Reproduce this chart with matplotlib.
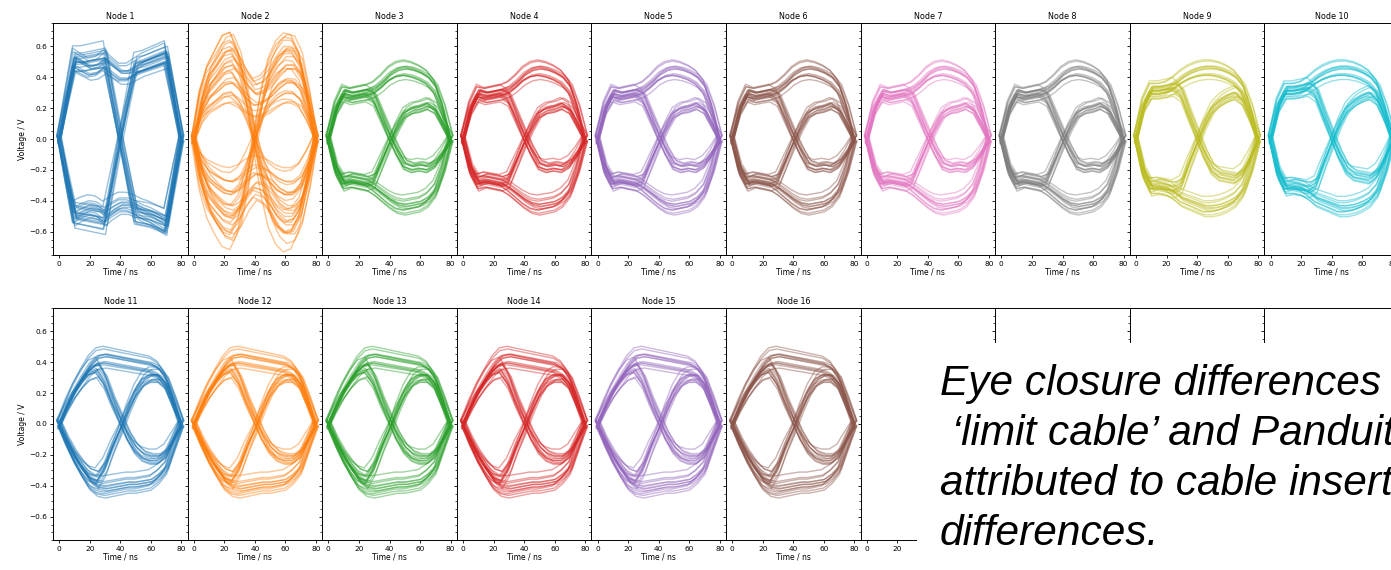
import numpy as np
import matplotlib.pyplot as plt
from matplotlib.ticker import MultipleLocator, AutoMinorLocator
from matplotlib.patches import Rectangle

# time axis of the eye (two unit intervals)
t_ns = [0, 5, 10, 15, 20, 25, 30, 35, 40, 45, 50, 55, 60, 65, 70, 75, 80]

# trace shapes (high-high, high-low, low-high, low-low)
node1_hh = [0, 0.27, 0.53, 0.50, 0.47, 0.48, 0.52, 0.48, 0.44, 0.44, 0.47, 0.50, 0.52, 0.54, 0.56, 0.28, 0]
node1_hl = [0, 0.27, 0.53, 0.53, 0.54, 0.55, 0.56, 0.28, 0.0, -0.26, -0.52, -0.53, -0.54, -0.56, -0.58, -0.29, 0]
node1_lh = [0, -0.27, -0.52, -0.53, -0.54, -0.55, -0.56, -0.28, 0.0, 0.26, 0.50, 0.51, 0.53, 0.55, 0.57, 0.29, 0]
node1_ll = [0, -0.27, -0.52, -0.49, -0.47, -0.48, -0.52, -0.48, -0.45, -0.45, -0.47, -0.50, -0.52, -0.55, -0.58, -0.29, 0]

node2_hh = [0, 0.30, 0.45, 0.52, 0.60, 0.62, 0.55, 0.45, 0.38, 0.40, 0.46, 0.55, 0.62, 0.62, 0.55, 0.32, 0]
node2_hl = [0, 0.30, 0.48, 0.58, 0.68, 0.70, 0.58, 0.32, 0.0, -0.30, -0.52, -0.63, -0.68, -0.66, -0.55, -0.30, 0]
node2_lh = [0, -0.30, -0.48, -0.58, -0.66, -0.68, -0.58, -0.32, 0.0, 0.30, 0.52, 0.63, 0.68, 0.67, 0.56, 0.30, 0]
node2_ll = [0, -0.30, -0.45, -0.52, -0.58, -0.60, -0.55, -0.45, -0.38, -0.40, -0.46, -0.55, -0.60, -0.60, -0.52, -0.30, 0]

mid_hh = [0, 0.20, 0.30, 0.29, 0.30, 0.31, 0.33, 0.37, 0.42, 0.45, 0.46, 0.45, 0.43, 0.40, 0.34, 0.20, 0]
mid_hl = [0, 0.20, 0.30, 0.28, 0.29, 0.30, 0.27, 0.15, 0.03, -0.08, -0.17, -0.19, -0.18, -0.19, -0.16, -0.09, 0]
mid_lh = [0, -0.20, -0.29, -0.27, -0.28, -0.29, -0.27, -0.15, -0.03, 0.08, 0.17, 0.20, 0.21, 0.23, 0.20, 0.10, 0]
mid_ll = [0, -0.20, -0.29, -0.28, -0.29, -0.30, -0.33, -0.37, -0.41, -0.44, -0.45, -0.44, -0.43, -0.40, -0.34, -0.20, 0]

open_hh = [0, 0.22, 0.32, 0.32, 0.33, 0.36, 0.40, 0.43, 0.45, 0.46, 0.46, 0.45, 0.43, 0.40, 0.34, 0.20, 0]
open_hl = [0, 0.22, 0.32, 0.32, 0.33, 0.34, 0.30, 0.16, 0.03, -0.10, -0.20, -0.24, -0.25, -0.26, -0.22, -0.12, 0]
open_lh = [0, -0.22, -0.32, -0.31, -0.32, -0.33, -0.30, -0.16, -0.03, 0.10, 0.20, 0.25, 0.28, 0.30, 0.26, 0.14, 0]
open_ll = [0, -0.22, -0.32, -0.32, -0.33, -0.36, -0.40, -0.42, -0.44, -0.46, -0.46, -0.45, -0.43, -0.40, -0.34, -0.20, 0]

row2_hh = [0, 0.12, 0.23, 0.32, 0.40, 0.45, 0.46, 0.45, 0.44, 0.43, 0.42, 0.41, 0.40, 0.37, 0.30, 0.16, 0]
row2_hl = [0, 0.12, 0.22, 0.30, 0.36, 0.38, 0.30, 0.16, 0.04, -0.08, -0.17, -0.22, -0.24, -0.24, -0.20, -0.10, 0]
row2_lh = [0, -0.12, -0.22, -0.30, -0.36, -0.38, -0.30, -0.16, -0.04, 0.10, 0.22, 0.30, 0.33, 0.33, 0.28, 0.14, 0]
row2_ll = [0, -0.12, -0.23, -0.32, -0.40, -0.44, -0.45, -0.44, -0.43, -0.42, -0.42, -0.41, -0.40, -0.36, -0.30, -0.15, 0]

shapes = {
    'node1': [node1_hh, node1_hl, node1_lh, node1_ll],
    'node2': [node2_hh, node2_hl, node2_lh, node2_ll],
    'mid': [mid_hh, mid_hl, mid_lh, mid_ll],
    'open': [open_hh, open_hl, open_lh, open_ll],
    'row2': [row2_hh, row2_hl, row2_lh, row2_ll],
}

node_names = ['Node %d' % i for i in range(1, 17)]
node_shape = ['node1', 'node2', 'mid', 'mid', 'mid', 'mid', 'mid', 'mid', 'open', 'open',
              'row2', 'row2', 'row2', 'row2', 'row2', 'row2']

# amplitude spread of the trace bundles
lev_node1 = [0.82, 0.85, 0.88, 0.9, 0.92, 0.94, 0.96, 0.98, 1.0, 1.02, 1.05, 1.08]
lev_node2 = [0.35, 0.42, 0.48, 0.54, 0.6, 0.65, 0.7, 0.75, 0.8, 0.85, 0.9, 0.94, 0.98, 1.03]
lev_mid = [0.86, 0.88, 0.9, 0.92, 0.94, 0.96, 0.98, 1.0, 1.02, 1.04, 1.06, 1.08]
lev_row2 = [0.8, 0.83, 0.86, 0.88, 0.9, 0.92, 0.94, 0.96, 0.98, 1.0, 1.03, 1.06]
node_levels = [lev_node1, lev_node2] + [lev_mid] * 8 + [lev_row2] * 6

# timing jitter (ns) and offset (V) of the bundles
jitter_ns = [-1.5, 0.6, -0.5, 1.2, 0.0, -1.0, 1.5, -0.2, 0.8, -0.8, 0.3, -1.2, 1.0]
offset_v = [0.015, -0.02, 0.0, 0.03, -0.01, -0.03, 0.02, 0.01, -0.015, 0.025, -0.025]

note_lines = ['Eye closure differences between',
              ' \u2018limit cable\u2019 and Panduit cables',
              'attributed to cable insertion loss',
              'differences.']

W, H = 1391, 570
fig = plt.figure(figsize=(W / 100, H / 100), dpi=100)

x0, cw = 53, 134.6
rows = [(23, 255), (308, 540)]
t = np.array(t_ns)

for k in range(20):
    r, c = divmod(k, 10)
    top, bot = rows[r]
    ax = fig.add_axes([(x0 + c * cw) / W, 1 - bot / H, cw / W, (bot - top) / H])
    if k < 16:
        col = 'C%d' % (k % 10)
        for j, lev in enumerate(node_levels[k]):
            dt = jitter_ns[j % len(jitter_ns)]
            for m, shp in enumerate(shapes[node_shape[k]]):
                dv = offset_v[(j + 3 * m) % len(offset_v)]
                ax.plot(t + dt, lev * np.array(shp) + dv, color=col, alpha=0.45, lw=1.0)
        ax.set_title(node_names[k], fontsize=5.8, pad=3)
        ax.set_xlabel('Time / ns', fontsize=5.5, labelpad=1)
    ax.set_xlim(-4, 84)
    ax.set_ylim(-0.75, 0.75)
    ax.xaxis.set_major_locator(MultipleLocator(20))
    ax.yaxis.set_major_locator(MultipleLocator(0.2))
    ax.yaxis.set_minor_locator(AutoMinorLocator(4))
    ax.tick_params(which='major', length=2.5, width=0.6, labelsize=5.3, pad=1.5)
    ax.tick_params(which='minor', length=1.3, width=0.5)
    for sp in ax.spines.values():
        sp.set_linewidth(0.7)
    if c > 0:
        ax.tick_params(labelleft=False)
    else:
        ax.set_ylabel('Voltage / V', fontsize=5.5, labelpad=2)
    if k == 16:
        # only the first two labels show beside the text box
        ax.set_xticks([0, 20, 40, 60, 80], ['0', '20', '', '', ''])
    elif k > 16:
        ax.tick_params(labelbottom=False)

# slide text box on top of the empty panels
fig.add_artist(Rectangle((917 / W, 0), 1 - 917 / W, 1 - 343 / H, transform=fig.transFigure,
                         facecolor='white', edgecolor='none', zorder=5))
for i, line in enumerate(note_lines):
    fig.text(940 / W, 1 - (395 + 50 * i) / H, line, fontsize=30.5, style='italic',
             family='Liberation Sans', va='baseline', ha='left', zorder=6)

fig.savefig('out.png', dpi=100)
